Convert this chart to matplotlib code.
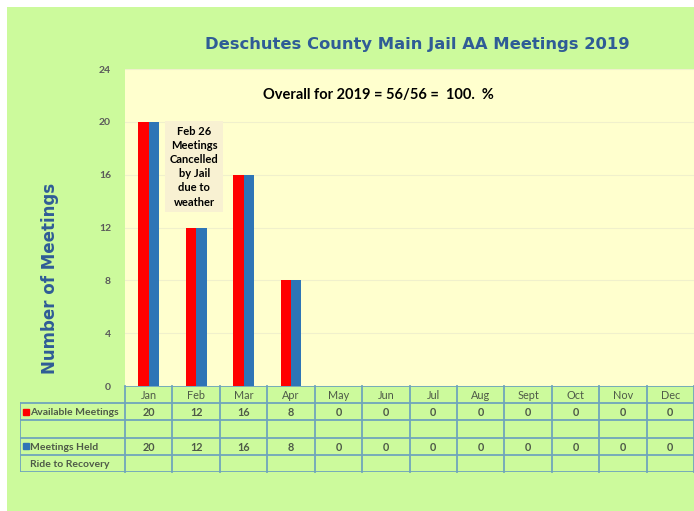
import numpy as np
import matplotlib.pyplot as plt
from matplotlib.patches import Rectangle

# chart data
months = ['Jan', 'Feb', 'Mar', 'Apr', 'May', 'Jun', 'Jul', 'Aug', 'Sept', 'Oct', 'Nov', 'Dec']
available = [20, 12, 16, 8, 0, 0, 0, 0, 0, 0, 0, 0]
held = [20, 12, 16, 8, 0, 0, 0, 0, 0, 0, 0, 0]
row_labels = ['Available Meetings', '', 'Meetings Held', 'Ride to Recovery']
y_ticks = [0, 4, 8, 12, 16, 20, 24]

title = 'Deschutes County Main Jail AA Meetings 2019'
summary = 'Overall for 2019 = 56/56 =  100.  %'
note = 'Feb 26\nMeetings\nCancelled\nby Jail\ndue to\nweather'

W, H = 694, 511
green = '#CCFA9C'
cream = '#FFFFCE'
red = '#FF0000'
blue = '#2E75B6'
line_col = '#6FA5BC'
txt_col = '#4E5A48'
body_font = ['Lato', 'DejaVu Sans']

fig = plt.figure(figsize=(W / 100, H / 100), dpi=100)
fig.patch.set_facecolor('white')
fig.patches.append(Rectangle((7 / W, 0), 1 - 7 / W, 1 - 7 / H, transform=fig.transFigure,
                             facecolor=green, edgecolor='none', zorder=-5))

# main plot area
left, right = 125 / W, 1.0
bottom, top = 1 - 386 / H, 1 - 69 / H
ax = fig.add_axes([left, bottom, right - left, top - bottom])
ax.set_facecolor(cream)
x = np.arange(len(months))
bw = 0.22
ax.bar(x - bw / 2, available, width=bw, color=red, zorder=3)
ax.bar(x + bw / 2, held, width=bw, color=blue, zorder=3)
ax.set_xlim(-0.5, len(months) - 0.5)
ax.set_ylim(0, 24)
ax.set_yticks(y_ticks)
ax.set_xticks([])
ax.grid(axis='y', color='#F0F0CC', linewidth=0.8, zorder=0)
for s in ax.spines.values():
    s.set_visible(False)
ax.tick_params(axis='y', length=0, pad=10, labelsize=7.5, labelcolor='#5A5A5A')
for lbl in ax.get_yticklabels():
    lbl.set_fontfamily(body_font)
    lbl.set_fontweight('bold')

fig.text(417 / W, 1 - 44 / H, title, ha='center', va='center', fontsize=11.8,
         color='#2F5C96', fontweight='bold')
fig.text(378 / W, 1 - 95 / H, summary, ha='center', va='center', family=body_font,
         fontsize=10.5, fontweight='bold', color='black')
ax.text(0.96, 16.6, note, ha='center', va='center', fontsize=8, fontweight='bold',
        family=body_font, color='black', linespacing=1.35, zorder=4,
        bbox=dict(boxstyle='square,pad=0.4', facecolor='#F8F1D2', edgecolor='none'))

fig.text(50 / W, 1 - 278 / H, 'Number of Meetings', rotation=90, ha='center', va='center',
         fontsize=12, fontweight='bold', color='#2F5C96')

# data table under the chart
col_w = (right - left) * W / len(months)
label_w = 105 / col_w
t_left = 20 / W
tab = fig.add_axes([t_left, 1 - 472 / H, right - t_left, (472 - 386) / H])
tab.set_xlim(-0.5 - label_w, len(months) - 0.5)
tab.set_ylim(5, 0)
tab.axis('off')

lw = 1.3
# horizontal lines
tab.plot([-0.5, len(months) - 0.5], [0, 0], color=line_col, lw=lw)
for r in range(1, 6):
    tab.plot([-0.5 - label_w, len(months) - 0.5], [r, r], color=line_col, lw=lw)
# vertical lines
tab.plot([-0.5 - label_w, -0.5 - label_w], [1, 5], color=line_col, lw=lw)
for c in range(len(months) + 1):
    tab.plot([c - 0.5, c - 0.5], [0, 5], color=line_col, lw=lw, clip_on=False)

for i, m in enumerate(months):
    tab.text(i, 0.55, m, ha='center', va='center', fontsize=7.8, color=txt_col, family=body_font)
    tab.text(i, 1.55, str(available[i]), ha='center', va='center', fontsize=7.8,
             color=txt_col, family=body_font, fontweight='bold')
    tab.text(i, 3.55, str(held[i]), ha='center', va='center', fontsize=7.8,
             color=txt_col, family=body_font, fontweight='bold')

lx = -0.5 - label_w + 0.05
tab.plot(lx + 0.07, 1.5, marker='s', color=red, markersize=4, clip_on=False)
tab.text(lx + 0.17, 1.55, row_labels[0], ha='left', va='center', fontsize=7.5,
         color=txt_col, fontweight='bold', family=body_font)
tab.plot(lx + 0.07, 3.5, marker='s', color=blue, markersize=4, clip_on=False)
tab.text(lx + 0.17, 3.55, row_labels[2], ha='left', va='center', fontsize=7.5,
         color=txt_col, fontweight='bold', family=body_font)
tab.text(lx + 0.17, 4.55, row_labels[3], ha='left', va='center', fontsize=7.5,
         color=txt_col, fontweight='bold', family=body_font)

fig.savefig('out.png', dpi=100, facecolor=fig.get_facecolor())
